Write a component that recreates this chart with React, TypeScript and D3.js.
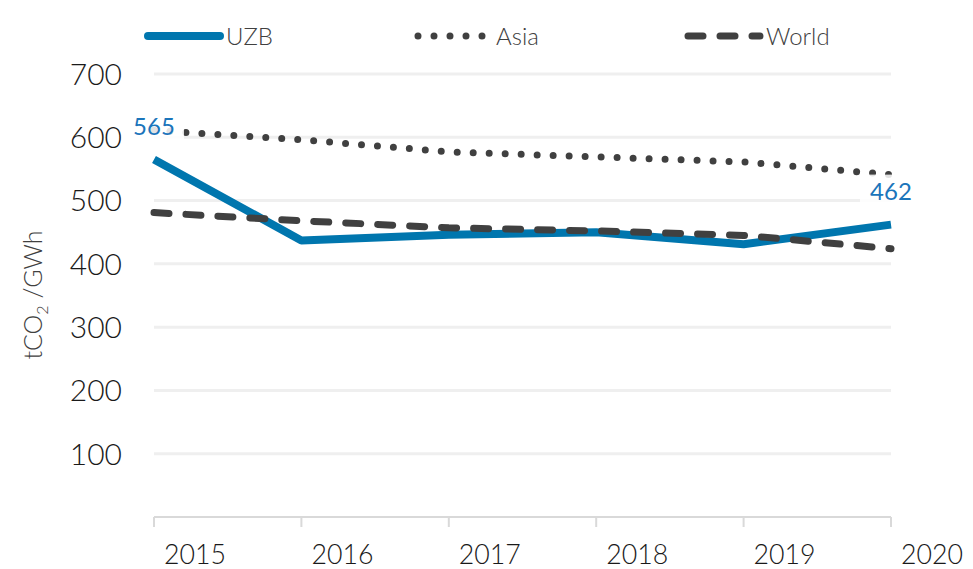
import React, { useEffect, useRef } from 'react';
import * as d3 from 'd3';

const years = [2015, 2016, 2017, 2018, 2019, 2020];
const uzb = [565, 437, 446, 450, 431, 462];
const asia = [611, 596, 577, 569, 561, 541];
const world = [481, 468, 457, 452, 445, 424];
const yTicks = [100, 200, 300, 400, 500, 600, 700];
const seriesNames = ['UZB', 'Asia', 'World'];

const BLUE = '#0076ae';
const DARK = '#404040';
const FONT = 'Lato, "Open Sans", sans-serif';

export default function App() {
  const ref = useRef<SVGSVGElement>(null);

  useEffect(() => {
    const width = 973;
    const height = 569;
    const svg = d3.select(ref.current);
    svg.selectAll('*').remove();
    svg.attr('width', width).attr('height', height);

    const x = d3.scaleLinear().domain([2015, 2020]).range([154, 891]);
    const y = d3.scaleLinear().domain([0, 700]).range([517, 74]);

    // gridlines
    svg.append('g')
      .selectAll('line')
      .data(yTicks)
      .join('line')
        .attr('x1', x(2015))
        .attr('x2', x(2020))
        .attr('y1', d => y(d))
        .attr('y2', d => y(d))
        .attr('stroke', '#efefef')
        .attr('stroke-width', 3);

    // y tick labels
    svg.append('g')
      .selectAll('text')
      .data(yTicks)
      .join('text')
        .attr('x', 122)
        .attr('y', d => y(d))
        .attr('dy', '0.36em')
        .attr('text-anchor', 'end')
        .attr('font-family', FONT)
        .attr('font-weight', 300)
        .attr('font-size', 30)
        .attr('fill', '#1a1a1a')
        .text(d => d);

    // x axis line + ticks
    svg.append('line')
      .attr('x1', x(2015)).attr('x2', x(2020))
      .attr('y1', y(0)).attr('y2', y(0))
      .attr('stroke', '#d9d9d9').attr('stroke-width', 2);
    svg.append('g')
      .selectAll('line')
      .data(years)
      .join('line')
        .attr('x1', d => x(d)).attr('x2', d => x(d))
        .attr('y1', y(0)).attr('y2', y(0) + 10)
        .attr('stroke', '#d9d9d9').attr('stroke-width', 2);

    // x labels (sit right of their tick, as in the source)
    svg.append('g')
      .selectAll('text')
      .data(years)
      .join('text')
        .attr('x', d => x(d) + 41)
        .attr('y', 564)
        .attr('text-anchor', 'middle')
        .attr('font-family', FONT)
        .attr('font-weight', 300)
        .attr('font-size', 28)
        .attr('fill', '#1a1a1a')
        .attr('textLength', 62)
        .attr('lengthAdjust', 'spacingAndGlyphs')
        .text(d => d);

    // y axis title
    const title = svg.append('text')
      .attr('transform', 'translate(42,295) rotate(-90)')
      .attr('text-anchor', 'middle')
      .attr('font-family', FONT)
      .attr('font-weight', 300)
      .attr('font-size', 25)
      .attr('fill', '#404040');
    title.append('tspan').text('tCO');
    title.append('tspan').attr('font-size', 16).attr('dy', 6).text('2');
    title.append('tspan').attr('dy', -6).text(' /GWh');

    const line = d3.line<number>()
      .x((d, i) => x(years[i]))
      .y(d => y(d));

    const styles = [
      { data: uzb, color: BLUE, width: 8, dash: null },
      { data: asia, color: DARK, width: 7, dash: '0,16' },
      { data: world, color: DARK, width: 7, dash: '15,17' },
    ];

    styles.forEach(s => {
      svg.append('path')
        .attr('d', line(s.data))
        .attr('fill', 'none')
        .attr('stroke', s.color)
        .attr('stroke-width', s.width)
        .attr('stroke-linecap', s.dash ? 'round' : 'butt')
        .attr('stroke-linejoin', 'round')
        .attr('stroke-dasharray', s.dash);
    });

    // data labels with white boxes
    const labels = [
      { i: 0, dy: -24, box: [-26, -42, 56, 36] },
      { i: 5, dy: -25, box: [-31, -50, 62, 44] },
    ];
    labels.forEach(l => {
      const cx = x(years[l.i]);
      const cy = y(uzb[l.i]);
      svg.append('rect')
        .attr('x', cx + l.box[0]).attr('y', cy + l.box[1])
        .attr('width', l.box[2]).attr('height', l.box[3])
        .attr('fill', '#fff')
        .attr('fill-opacity', 0.85);
      svg.append('text')
        .attr('x', cx)
        .attr('y', cy + l.dy)
        .attr('text-anchor', 'middle')
        .attr('font-family', FONT)
        .attr('font-size', 24)
        .attr('fill', '#1b75bb')
        .text(uzb[l.i]);
    });

    // legend
    const legendX = [148, 418, 688];
    const legendY = 36;
    seriesNames.forEach((name, k) => {
      const s = styles[k];
      svg.append('line')
        .attr('x1', legendX[k]).attr('x2', legendX[k] + 72)
        .attr('y1', legendY).attr('y2', legendY)
        .attr('stroke', s.color)
        .attr('stroke-width', s.width)
        .attr('stroke-linecap', 'round')
        .attr('stroke-dasharray', s.dash);
      svg.append('text')
        .attr('x', legendX[k] + 78)
        .attr('y', legendY)
        .attr('dy', '0.36em')
        .attr('font-family', FONT)
        .attr('font-weight', 300)
        .attr('font-size', 24)
        .attr('fill', '#404040')
        .text(name);
    });
  }, []);

  return (
    <svg ref={ref} style={{ position: 'absolute', left: 0, top: 0, background: '#fff' }} />
  );
}
